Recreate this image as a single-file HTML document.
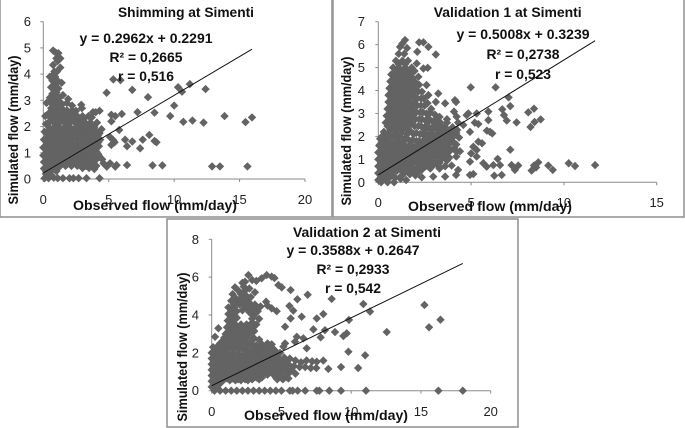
<!DOCTYPE html>
<html>
<head>
<meta charset="utf-8">
<title>Simenti flow charts</title>
<style>
html,body{margin:0;padding:0;background:#fff;width:685px;height:428px;overflow:hidden}
svg{display:block;filter:blur(0.35px)}
text{font-family:"Liberation Sans",sans-serif;fill:#222}
.b{font-weight:bold;fill:#111}
</style>
</head>
<body>
<svg id="root" width="685" height="428" viewBox="0 0 685 428" xmlns="http://www.w3.org/2000/svg"></svg>
<script>
const shimmingTitle = "Shimming at Simenti";
const shimmingXTicks = [0, 5, 10, 15, 20];
const shimmingYTicks = [0, 1, 2, 3, 4, 5, 6];
const shimmingFit = [0.2962, 0.2291];
const shimmingStats = ["y = 0.2962x + 0.2291", "R² = 0,2665", "r = 0,516"];
const shimmingPoints = [
[4.84,3.29],[5.35,3.8],[5.9,3.77],[6.8,3.4],[8,3.12],[7.2,2.55],[8.5,2.53],[9.7,2.4],[10,2.8],[10.3,3.5],[10.6,3.33],[11.2,3.62],[12.4,3.43],[10.7,2.18],[11.4,2.23],[12.25,2.15],[13.85,2.4],[15.45,2.17],[15.95,2.35],[12.9,0.48],[13.5,0.48],[15.6,0.48],[9.1,0.52],[8.35,0.52],[6.4,0.53],[5.6,0.53],[5.1,0.6],[5.5,0.47],[8.1,1.68],[8.5,1.45],[8.65,1.4],[7.6,1.5],[7.4,1.17],[6.8,1.43],[6.4,1.25],[6.25,1.5],[6,2.48],[5.8,1.87],[5.35,1.48],[5.1,1.6],[5.2,2.45],[5.5,2.4],[5.2,2.2],[5.2,1.3],[5.45,1.4],
[4.3,0.85],[4.6,0.6],[4.85,0.47],[4.3,0.03],[3.3,0.03],[2.7,0.03],[2,0.03],[1.5,0.03],[1.1,0.03],[2.3,0.03],[0.8,0.05],[0.4,0.03],[0.1,0.03],[0.6,0.15],[0.2,0.2],[4.5,0.75],[4.2,0.95],
[0.75,4.9],[1.15,4.8],[1,4.6],[1.3,4.6],[0.95,4.82],[0.75,4.35],[1.1,4.5],[1.3,4.25],[0.5,3.9],[0.9,3.9],[0.7,3.95],[1.1,3.75],[1.4,3.67],[0.6,3.5],[0.9,3.6],[0.7,3.25],[1,3.3],[1.5,3.2],[1.9,3.05],[1.8,2.9],[2.9,2.83],[2.95,2.7],[2.2,2.8],[0.25,2.9],[0.15,2.4],[0.5,2.95],[0.85,3],[1.25,2.95],[0.6,2.7],[1,2.7],[1.4,2.7],[2.5,2.6],
[4.3,2.6],[3.8,2.55],[3.45,2.4],[4.1,2.15],[4.45,1.9],[4.3,1.75],[4,2.55],[3.7,2.35],[3.1,2.3],
[0.2,2.1],[0.6,2.3],[1,2.35],[1.4,2.3],[1.8,2.35],[2.2,2.3],[2.6,2.3],[3,2.1],[3.4,2.05],[3.8,2.05],
[0.1,1.8],[0.5,1.95],[0.9,2],[1.3,1.95],[1.7,2],[2.1,1.95],[2.5,1.95],[2.9,1.85],[3.3,1.8],[3.7,1.8],[4.1,1.8],
[0.05,1.5],[0.4,1.65],[0.8,1.65],[1.2,1.65],[1.6,1.65],[2,1.65],[2.4,1.65],[2.8,1.55],[3.2,1.55],[3.6,1.5],[4,1.5],[4.35,1.5],
[0,1.2],[0.3,1.35],[0.7,1.35],[1.1,1.35],[1.5,1.35],[1.9,1.35],[2.3,1.3],[2.7,1.3],[3.1,1.25],[3.5,1.2],[3.9,1.25],[4.25,1.25],
[0,0.9],[0.3,1.05],[0.7,1.05],[1.1,1.05],[1.5,1.05],[1.9,1],[2.3,1],[2.7,1],[3.1,0.95],[3.5,0.9],[3.85,0.85],
[0.05,0.65],[0.35,0.75],[0.75,0.75],[1.15,0.75],[1.55,0.75],[1.95,0.7],[2.35,0.7],[2.75,0.7],[3.15,0.65],[3.5,0.6],[3.85,0.6],
[0.05,0.4],[0.4,0.45],[0.8,0.45],[1.2,0.45],[1.7,0.5],[2.15,0.5],[2.6,0.5],[3,0.42],[3.5,0.42],[3.9,0.38],
[0.4,2.15],[0.8,2.15],[1.2,2.15],[1.6,2.15],[2,2.15],[2.4,2.15],[2.8,2.15],[3.2,2.15],[3.6,2.15],
[0.3,1.8],[0.7,1.8],[1.1,1.8],[1.5,1.8],[1.9,1.8],[2.3,1.8],[2.7,1.8],[3.1,1.8],[3.5,1.8],[3.9,1.8],
[0.2,1.5],[0.6,1.5],[1,1.5],[1.4,1.5],[1.8,1.5],[2.2,1.5],[2.6,1.5],[3,1.4],[3.4,1.4],[3.8,1.4],[4.2,1.4],
[0.15,1.2],[0.5,1.2],[0.9,1.2],[1.3,1.2],[1.7,1.2],[2.1,1.2],[2.5,1.15],[2.9,1.1],[3.3,1.1],[3.7,1.05],[4.05,1.05],
[0.15,0.9],[0.5,0.9],[0.9,0.9],[1.3,0.9],[1.7,0.9],[2.1,0.85],[2.5,0.85],[2.9,0.85],[3.3,0.78],[3.7,0.75],
[0.2,0.6],[0.55,0.6],[0.95,0.6],[1.35,0.6],[1.75,0.6],[2.15,0.6],[2.55,0.6],[2.95,0.55],[3.3,0.5],
[0.2,0.3],[0.6,0.3],[1,0.3],
[0.4,2.5],[0.8,2.5],[1.2,2.5],[1.6,2.5],[2,2.5],[2.3,2.5],
[0.7,2.85],[1.05,2.85],[1.45,2.85],[0.5,3.1],[0.85,3.1],[1.2,3.1],[0.8,3.45],[1.15,3.45],[0.7,3.75],[0.95,3.75],[0.85,4.1],[1.05,4.1],
[2.7,1.98],[3.1,1.98],[3.5,1.98],[3.9,1.98],[2.6,1.68],[3,1.68],[3.4,1.68],[3.8,1.68],[4.2,1.68],
[2.9,1.62],[3.3,1.62],[3.7,1.62],[4.1,1.62],[2.5,1.32],[2.9,1.32],[3.3,1.32],[3.7,1.32],[4.1,1.32],
[2.5,1.02],[2.9,1.02],[3.3,1.02],[3.7,1.02],[4.05,1.02],[2.95,0.72],[3.3,0.72],[3.65,0.72],[4,0.72],
[3.25,0.5],[3.65,0.5],[4.05,0.5],[3.55,0.88],[3.95,0.88],[1.8,2.62],[2.2,2.62],[2.6,2.4],[3,2.4]
];

const validation1Title = "Validation 1 at Simenti";
const validation1XTicks = [0, 5, 10, 15];
const validation1YTicks = [0, 1, 2, 3, 4, 5, 6, 7];
const validation1Fit = [0.5008, 0.3239];
const validation1Stats = ["y = 0.5008x + 0.3239", "R² = 0,2738", "r = 0,523"];
const validation1Points = [
[11.68,0.75],[10.6,0.71],[10.26,0.83],[9.16,0.73],[9.4,0.54],[8.62,0.87],[8.39,0.73],[8.26,0.51],[8.5,0.65],[8.75,2.74],[8.42,2.63],[8.2,2.41],[8.39,3.21],[8.08,3.05],[7.45,2.61],[7.11,3.32],[7.02,3.7],[6.68,3.18],[6.77,2.93],[6.92,2.69],[6.32,4.14],[4.98,4.14],[7.11,1.42],[7.54,0.73],[7.18,0.75],[7.36,0.54],[6.65,0.32],[6.25,0.29],[6.56,0.75],[6.43,1.02],[5.12,0.36],[4.94,0.32],[4.19,0.32],[3.6,0.25],[2.96,0.25],[2.34,0.22],[5.84,0.68],[5.66,0.83],[6.2,0.75],[5.59,1.7],[5.39,1.77],[5.12,1.55],[5,1.26],[5.3,1.41],[4.94,0.9],[5.3,1.12],[4.2,1.12],[4.3,0.54],[3.95,0.73],[4.76,2.93],[5.3,3],[4.85,3],[5.2,2.6],[5.39,2.54],[5.93,3.08],[5.93,2.71],[6.02,2.2],[6.14,2.13],[5.85,2.25],[4.94,2.2],[4.58,2.5],[4.13,3.58],[4.19,3.5],[4.08,3.08],[4.22,2.86],[3.6,3.44],[3.23,3.87],[3.1,3.5],[2.6,4.24],[2.7,3.8],[3.1,5.57],[2.7,5.9],[2.43,6.1],[2.2,6.1],[2.1,5.69],[2.66,4.99],[2.07,5.18],[2.43,4.96],[2.16,4.6],[1.44,6.2],[1.17,5.9],
[1.3,6.05],[1.55,5.85],[1.1,5.6],[1.4,5.6],[0.95,5.3],[1.3,5.3],[1.6,5.3],[0.8,5],[1.1,5],[1.45,5],[1.8,5],[0.7,4.7],[1,4.7],[1.35,4.7],[1.7,4.7],[0.65,4.4],[0.95,4.4],[1.3,4.4],[1.65,4.4],[2,4.35],[0.6,4.1],[0.95,4.1],[1.3,4.1],[1.65,4.1],[2,4.05],[2.35,3.95],[0.55,3.8],[0.9,3.8],[1.25,3.8],[1.6,3.8],[1.95,3.75],[2.3,3.65],[2.65,3.45],[0.55,3.5],[0.9,3.5],[1.25,3.5],[1.6,3.5],[1.95,3.45],[2.3,3.35],[2.85,3.2],[0.5,3.2],[0.85,3.2],[1.2,3.2],[1.55,3.2],[1.9,3.15],[2.25,3.05],[2.6,3],[3.3,2.85],[0.45,2.9],[0.8,2.9],[1.15,2.9],[1.5,2.9],[1.85,2.85],[2.2,2.75],[2.55,2.7],[2.95,2.65],[3.7,2.75],
[0.4,2.6],[0.75,2.6],[1.1,2.6],[1.45,2.6],[1.8,2.55],[2.15,2.45],[2.5,2.4],[2.85,2.35],[3.2,2.4],[3.6,2.4],[4,2.4],[4.3,2.6],
[0.3,2.2],[0.65,2.3],[1,2.3],[1.35,2.3],[1.7,2.25],[2.05,2.15],[2.4,2.1],[2.75,2.05],[3.1,2.05],[3.45,2.1],[3.8,2.1],[4.2,2.15],
[0.1,1.9],[0.45,1.95],[0.8,2],[1.15,2],[1.5,1.95],[1.85,1.85],[2.2,1.8],[2.55,1.75],[2.9,1.75],[3.25,1.8],[3.6,1.8],[4.05,1.75],
[0.05,1.6],[0.35,1.65],[0.7,1.7],[1.05,1.7],[1.4,1.65],[1.75,1.55],[2.1,1.5],[2.45,1.45],[2.8,1.45],[3.15,1.5],[3.5,1.5],[3.9,1.4],[4.4,1.35],
[0,1.3],[0.3,1.35],[0.65,1.4],[1,1.4],[1.35,1.35],[1.7,1.25],[2.05,1.2],[2.4,1.15],[2.75,1.15],[3.1,1.2],[3.4,1.2],[3.8,1.1],
[0,1],[0.3,1.05],[0.65,1.1],[1,1.1],[1.35,1.05],[1.7,0.95],[2.05,0.9],[2.4,0.85],[2.7,0.85],[3.1,0.9],[3.7,0.95],
[0,0.7],[0.3,0.75],[0.65,0.8],[1,0.8],[1.35,0.75],[1.7,0.65],[2.05,0.6],[2.35,0.55],[2.8,0.6],[3.3,0.6],
[0,0.4],[0.3,0.45],[0.65,0.5],[1,0.5],[1.35,0.45],[1.7,0.35],[2,0.3],
[0,0.1],[0.3,0.15],[0.6,0.2],[0.9,0.2],[1.2,0.15],[1.5,0.1],[0.15,0],[0.5,0],[0.85,0],
[1.1,5.15],[1.45,5.15],[0.95,4.85],[1.25,4.85],[1.6,4.85],[1.95,4.85],[0.85,4.55],[1.2,4.55],[1.5,4.55],[1.85,4.55],
[0.8,4.25],[1.1,4.25],[1.5,4.25],[1.85,4.25],[2.2,4.25],[0.75,3.95],[1.1,3.95],[1.45,3.95],[1.8,3.95],[2.15,3.95],
[0.7,3.65],[1.05,3.65],[1.4,3.65],[1.75,3.65],[2.1,3.65],[2.45,3.65],[0.7,3.35],[1.05,3.35],[1.4,3.35],[1.75,3.35],[2.1,3.35],[2.5,3.35],
[0.65,3.05],[1,3.05],[1.35,3.05],[1.7,3.05],[2.05,3.05],[2.4,3.05],[2.8,3.05],
[0.6,2.75],[0.95,2.75],[1.3,2.75],[1.65,2.75],[2,2.75],[2.35,2.75],[2.75,2.75],[3.1,2.75],
[0.5,2.45],[0.9,2.45],[1.25,2.45],[1.6,2.45],[1.95,2.45],[2.3,2.45],[2.65,2.45],[3,2.45],[3.4,2.45],
[0.5,2.1],[0.85,2.1],[1.2,2.1],[1.55,2.1],[1.9,2.1],[2.25,2.1],[2.6,2.1],[2.95,2.1],[3.3,2.1],[3.65,2.1],[4,2.1],
[0.25,1.8],[0.6,1.8],[1,1.8],[1.35,1.8],[1.7,1.8],[2.05,1.8],[2.4,1.8],[2.75,1.8],[3.1,1.8],[3.45,1.8],[3.85,1.8],
[0.2,1.5],[0.5,1.5],[0.85,1.5],[1.2,1.5],[1.55,1.5],[1.9,1.5],[2.25,1.5],[2.6,1.5],[2.95,1.5],[3.3,1.5],[3.7,1.5],[4.1,1.5],
[0.15,1.2],[0.5,1.2],[0.85,1.2],[1.2,1.2],[1.55,1.2],[1.9,1.2],[2.25,1.2],[2.6,1.2],[2.95,1.2],[3.3,1.2],[3.6,1.2],
[0.15,0.85],[0.5,0.85],[0.85,0.85],[1.2,0.85],[1.55,0.85],[1.9,0.85],[2.25,0.85],[2.55,0.85],[2.9,0.85],[3.3,0.85],
[0.15,0.55],[0.5,0.55],[0.85,0.55],[1.2,0.55],[1.55,0.55],[1.9,0.55],[2.2,0.55],
[0.15,0.25],[0.5,0.25],[0.85,0.25],[1.2,0.25],
[2.7,2.95],[3.05,2.95],[2.65,2.6],[3,2.6],[3.35,2.6],[3.7,2.6],[2.5,2.28],[2.85,2.28],[3.2,2.28],[3.55,2.28],[3.9,2.28],[4.25,2.28],
[2.6,1.95],[2.95,1.95],[3.3,1.95],[3.65,1.95],[4,1.95],[4.35,1.95],[2.4,1.65],[2.75,1.65],[3.1,1.65],[3.45,1.65],[3.8,1.65],[4.2,1.65],
[2.4,1.35],[2.75,1.35],[3.1,1.35],[3.45,1.35],[3.8,1.35],[4.2,1.35],[2.4,1.05],[2.75,1.05],[3.1,1.05],[3.45,1.05],[3.8,1.05],
[2.2,0.7],[2.55,0.7],[2.9,0.7],[3.25,0.7],[3.6,0.7],[1.4,0.4],[1.75,0.4],[2.1,0.4],
[0.2,2],[0.55,2],[0.1,1.65],[0.4,1.65],[0.75,1.65],[0.1,1.35],[0.35,1.35],[0.7,1.35],[0.1,1.05],[0.35,1.05],[0.7,1.05],[0.1,0.7],[0.35,0.7],[0.7,0.7],[0.1,0.4],[0.35,0.4],[0.7,0.4],
[1.05,0.7],[1.4,0.7],[1.75,0.7],[1.05,1.05],[1.4,1.05],[1.75,1.05],[2.1,1.05],[1.05,1.35],[1.4,1.35],[1.75,1.35],[2.1,1.35],[1.05,1.65],[1.4,1.65],[1.75,1.65],[2.1,1.65]
];

const validation2Title = "Validation 2 at Simenti";
const validation2XTicks = [0, 5, 10, 15, 20];
const validation2YTicks = [0, 2, 4, 6, 8];
const validation2Fit = [0.3588, 0.2647];
const validation2Stats = ["y = 0.3588x + 0.2647", "R² = 0,2933", "r = 0,542"];
const validation2Points = [
[18,0],[16.25,0],[11.06,0],[9.27,0],[8.43,0],[7.72,0],[7.53,0],[6.7,0],[6.16,0],[5.8,0],[5.6,0],[5,0],[4.6,0],[4.2,0],[3.8,0],[3.4,0],[3,0],[2.6,0],[2.2,0],[1.8,0],[1.4,0],[1,0],[0.6,0],[0.2,0],[0,0.2],[0.4,0.2],
[15.25,4.53],[15.58,3.35],[16.4,3.75],[12.55,3.1],[11.35,4.18],[10.87,4.58],[9.84,3.74],[8.6,4.85],[6.88,5.07],[6.14,4.83],[6.45,3.91],[8,4.05],[7.53,3.82],[5.66,5.32],[5.02,5.46],[4.78,5.58],[5.85,4.23],[5.57,4.48],[5.66,3.82],[5.26,3.38],[8.84,3.1],[8.12,3.2],[7.29,3.24],[7.81,2.82],[9.68,3.03],[9.44,2.89],[9.8,2.06],[11,1.87],[10.5,1.2],[9.27,1.25],[8.36,1.15],[8,1.59],[7.53,1.53],[6.1,2.85],[6.57,2.77],[5.97,2.59],[6.81,2.24],[5.26,2.5],[5.14,2.33],
[2.63,6.11],[2.39,5.76],[3.2,5.8],[3.58,5.94],[3.94,6.11],[4.3,6.03],[1.67,5.46],[3.1,5.2],[3.9,4.7],[4.3,4.35],[4.66,4.2],[0.48,3.3],[0.24,2.85],[2.2,5.7],[2.9,5.85],[4.5,5.95],[2.4,5.3],[1.5,5.1],[2.1,5.1],[2.5,5],[2.8,4.95],
[1.4,4.75],[1.8,4.8],[2.3,4.7],[2.7,4.65],[3.1,4.55],[3.5,4.45],[4,4.5],[1.2,4.4],[1.6,4.4],[2.5,4.35],[2.9,4.3],[3.3,4.2],[1.2,4.05],[1.6,4.05],[3,3.95],[3.4,3.8],[1.15,3.7],[1.55,3.7],[2.9,3.6],[3.2,3.5],[1.1,3.35],[1.5,3.35],[1.9,3.3],[2.3,3.25],[2.7,3.3],[3.05,3.15],[1,3],[1.4,3],[1.8,2.95],[2.2,2.95],[2.6,2.95],[3,2.8],[3.4,2.7],[0.8,2.65],[1.2,2.65],[1.6,2.65],[2,2.65],[2.4,2.6],[2.8,2.5],[3.2,2.4],[3.6,2.45],[4,2.5],[4.3,2.45],
[0.1,2.3],[0.5,2.4],[0.9,2.35],[1.3,2.3],[1.7,2.3],[2.1,2.3],[2.5,2.2],[2.9,2.15],[3.3,2.1],[3.7,2.15],[4.1,2.15],[4.5,2.15],[4.9,2],
[0,2],[0.35,2.05],[0.75,2],[1.15,1.95],[1.55,1.95],[1.95,1.95],[2.35,1.9],[2.75,1.85],[3.15,1.8],[3.55,1.8],[3.95,1.8],[4.35,1.8],[4.75,1.75],[5.2,1.75],[5.6,1.7],[6,1.6],[6.4,1.5],[6.8,1.6],[7.2,1.55],
[0,1.7],[0.3,1.7],[0.7,1.65],[1.1,1.65],[1.5,1.6],[1.9,1.6],[2.3,1.55],[2.7,1.5],[3.1,1.5],[3.5,1.5],[3.9,1.45],[4.3,1.45],[4.7,1.45],[5.1,1.45],[5.5,1.4],[5.9,1.3],[6.3,1.25],[6.7,1.25],[7.1,1.2],[7.5,1.2],
[0,1.4],[0.3,1.4],[0.7,1.35],[1.1,1.3],[1.5,1.3],[1.9,1.25],[2.3,1.2],[2.7,1.2],[3.1,1.15],[3.5,1.15],[4,1.1],[4.4,1.1],[4.9,1.2],[5.3,1.15],[5.7,1.1],
[0,1.1],[0.3,1.1],[0.7,1.05],[1.1,1],[1.5,0.95],[1.9,0.9],[2.3,0.9],[2.7,0.85],[3.1,0.8],[3.5,0.85],[4,0.85],[4.5,0.8],[5,0.85],[5.5,0.9],[6,0.9],
[0,0.8],[0.3,0.8],[0.7,0.75],[1.1,0.65],[1.5,0.65],[1.9,0.6],[2.4,0.6],[2.9,0.6],[3.4,0.6],[4.7,0.6],[5.1,0.6],[5.5,0.65],
[0,0.5],[0.3,0.5],[0.7,0.45],
[0.3,2.15],[0.7,2.15],[1.1,2.15],[1.5,2.15],[1.9,2.15],[2.3,2.15],[2.7,2.05],[3.1,1.98],[3.5,1.98],[3.9,1.98],
[0.2,1.85],[0.55,1.85],[0.95,1.85],[1.35,1.8],[1.75,1.8],[2.15,1.75],[2.55,1.7],[2.95,1.65],[3.35,1.65],[3.75,1.65],[4.15,1.65],[4.55,1.6],[4.95,1.6],[5.4,1.55],
[0.15,1.55],[0.5,1.55],[0.9,1.5],[1.3,1.5],[1.7,1.45],[2.1,1.4],[2.5,1.35],[2.9,1.35],[3.3,1.3],[3.7,1.3],[4.1,1.3],[4.5,1.3],[4.9,1.35],[5.3,1.3],
[0.15,1.25],[0.5,1.25],[0.9,1.15],[1.3,1.15],[1.7,1.1],[2.1,1.05],[2.5,1.05],[2.9,1],[3.3,1],[3.7,1],[4.2,0.98],
[0.15,0.95],[0.5,0.95],[0.9,0.85],[1.3,0.8],[1.7,0.78],[2.1,0.75],[2.5,0.75],[2.9,0.72],[3.3,0.72],
[0.15,0.65],[0.5,0.65],[0.9,0.6],[1.3,0.55],[1.7,0.55],[2.1,0.55],[2.6,0.55],
[0.6,2.5],[1,2.5],[1.4,2.5],[1.8,2.5],[2.2,2.45],[2.6,2.4],
[0.9,2.8],[1.3,2.8],[1.7,2.8],[2.1,2.8],[2.5,2.8],[2.9,2.65],
[1.2,3.15],[1.6,3.15],[2,3.15],[2.4,3.1],[2.8,3.1],
[1.3,3.5],[1.7,3.5],[2.1,3.5],[2.5,3.5],[3,3.35],
[1.4,3.85],[1.8,3.85],[2.9,3.8],
[1.4,4.2],[1.8,4.2],[2.2,4.25],[2.7,4.15],[3.1,4.05],
[1.6,4.55],[2,4.55],[2.4,4.5],[2.9,4.45],[3.3,4.35],
[1.7,4.9],[2.1,4.9],[2.6,4.8],[1.9,5.3],[2.3,5.5],[2.7,5.4],
[3,2.3],[3.4,2.3],[3.8,2.3],[4.2,2.3],[3,2],[3.4,2],[3.8,2],[4.2,2],[4.6,2],
[3.4,1.42],[3.8,1.42],[4.2,1.42],[4.6,1.42],[5,1.42],[3.2,1.12],[3.6,1.12],[4,1.12],[4.4,1.12],[4.8,1.12],[5.2,1.12],
[3.7,0.95],[4.1,0.95],[4.6,0.95],[5.1,0.95],[5.5,0.95],[2.8,0.7],[3.2,0.7],[3.6,0.7],[4.6,0.7],[5,0.7],[5.4,0.7],[0.15,0.35],[0.5,0.35]
];

const svgNS = "http://www.w3.org/2000/svg";
const root = document.getElementById("root");

function make(parent, tag, attrs, content) {
  const node = document.createElementNS(svgNS, tag);
  for (const key in attrs) node.setAttribute(key, attrs[key]);
  if (content !== undefined) node.textContent = content;
  parent.appendChild(node);
  return node;
}

function drawChart(c) {
  const group = make(root, "g", {});
  
  

  const frame = make(group, "rect", { x: c.fx, y: c.fy, width: c.fw, height: c.fh, fill: "#fff", stroke: "#969696", "stroke-width": 1.6 });
  
  

  const xMax = c.xTicks[c.xTicks.length - 1];
  const yMax = c.yTicks[c.yTicks.length - 1];
  const sx = v => c.x0 + (v / xMax) * (c.x1 - c.x0);
  const sy = v => c.y0 - (v / yMax) * (c.y0 - c.y1);

  const axes = make(group, "g", { stroke: "#8a8a8a", "stroke-width": 1, fill: "none" });
  
  
  make(axes, "line", { x1: c.x0, y1: c.y0, x2: c.x1, y2: c.y0 });
  make(axes, "line", { x1: c.x0, y1: c.y0, x2: c.x0, y2: c.y1 });

  c.xTicks.forEach(t => {
    make(axes, "line", { x1: sx(t), y1: c.y0, x2: sx(t), y2: c.y0 + 3 });
  });
  c.yTicks.forEach(t => {
    make(axes, "line", { x1: c.x0 - 3, y1: sy(t), x2: c.x0, y2: sy(t) });
  });

  const marks = make(group, "g", { fill: "#636363" });
  
  
  c.points.forEach(p => {
    const px = sx(p[0]);
    const py = sy(p[1]);
    const d = make(marks, "path", { d: "M" + px + " " + (py - 4.2) + "L" + (px + 4.2) + " " + py + "L" + px + " " + (py + 4.2) + "L" + (px - 4.2) + " " + py + "Z" });
    
    
  });

  const xEnd = Math.max.apply(null, c.points.map(p => p[0]));
  const trend = make(group, "line", { x1: sx(0), y1: sy(c.fit[1]), x2: sx(xEnd), y2: sy(c.fit[0] * xEnd + c.fit[1]), stroke: "#111", "stroke-width": 1 });
  
  

  c.xTicks.forEach(t => {
    const label = make(group, "text", { x: sx(t), y: c.xLabelY, "text-anchor": "middle", "font-size": 13 }, String(t));
    
    
  });
  c.yTicks.forEach(t => {
    const label = make(group, "text", { x: c.yLabelX, y: sy(t) + 4.5, "text-anchor": "end", "font-size": 13 }, String(t));
    
    
  });

  const title = make(group, "text", { class: "b", x: c.titleX, y: c.titleY, "text-anchor": "middle", "font-size": 14, textLength: c.titleW, lengthAdjust: "spacingAndGlyphs" }, c.title);
  
  

  const statWidths = [133, 73, 56];
  c.stats.forEach((s, i) => {
    const stat = make(group, "text", { class: "b", x: c.statX, y: c.statY[i], "text-anchor": "middle", "font-size": 14, textLength: statWidths[i], lengthAdjust: "spacingAndGlyphs" }, s);
    
    
  });

  const xTitle = make(group, "text", { class: "b", x: c.xTitleX, y: c.xTitleY, "text-anchor": "middle", "font-size": 14, textLength: 164, lengthAdjust: "spacingAndGlyphs" }, "Observed flow (mm/day)");
  
  

  const yTitle = make(group, "text", { class: "b", transform: "translate(" + c.yTitleX + "," + c.yTitleY + ") rotate(-90)", "text-anchor": "middle", "font-size": 14, textLength: 149, lengthAdjust: "spacingAndGlyphs" }, "Simulated flow (mm/day)");
  
  
}

drawChart({
  name: "shimming-chart", fx: 0, fy: -1, fw: 332, fh: 218,
  x0: 43.3, x1: 305, y0: 179, y1: 21.7,
  xTicks: shimmingXTicks, yTicks: shimmingYTicks, points: shimmingPoints, fit: shimmingFit, stats: shimmingStats,
  title: shimmingTitle, titleX: 186, titleY: 17, titleW: 136,
  statX: 146, statY: [43, 62, 81],
  xTitleX: 155, xTitleY: 210, yTitleX: 18, yTitleY: 130,
  xLabelY: 204, yLabelX: 31
});
drawChart({
  name: "validation-1-chart", fx: 333, fy: -1, fw: 351, fh: 218,
  x0: 378.3, x1: 656.7, y0: 182.3, y1: 21.7,
  xTicks: validation1XTicks, yTicks: validation1YTicks, points: validation1Points, fit: validation1Fit, stats: validation1Stats,
  title: validation1Title, titleX: 507.7, titleY: 17, titleW: 148,
  statX: 523, statY: [39, 59, 79],
  xTitleX: 490, xTitleY: 211, yTitleX: 351, yTitleY: 131,
  xLabelY: 207, yLabelX: 365
});
drawChart({
  name: "validation-2-chart", fx: 167, fy: 219, fw: 351, fh: 208,
  x0: 211.7, x1: 490.7, y0: 390.7, y1: 239.3,
  xTicks: validation2XTicks, yTicks: validation2YTicks, points: validation2Points, fit: validation2Fit, stats: validation2Stats,
  title: validation2Title, titleX: 367, titleY: 237, titleW: 148,
  statX: 353, statY: [255, 274, 293],
  xTitleX: 326, xTitleY: 420, yTitleX: 187, yTitleY: 347,
  xLabelY: 416, yLabelX: 199
});
</script>
</body>
</html>
